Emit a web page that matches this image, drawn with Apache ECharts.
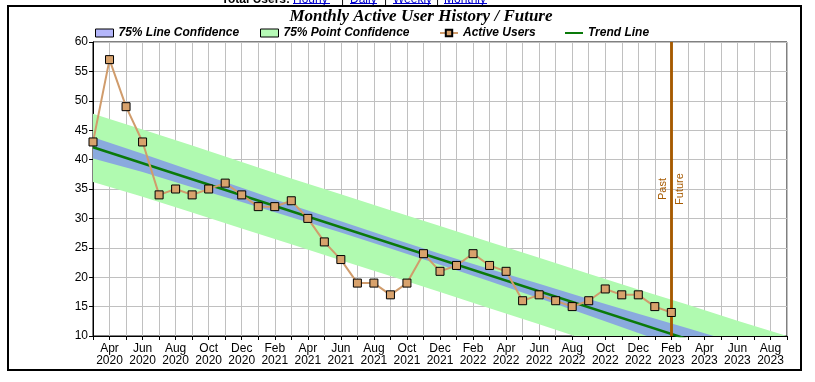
<!DOCTYPE html>
<html><head><meta charset="utf-8">
<script src="https://cdn.jsdelivr.net/npm/echarts@6/dist/echarts.min.js"></script>
<style>html,body{margin:0;padding:0;background:#fff}#c{width:815px;height:382px}</style>
</head><body><div id="c"></div><script>
// ---- data ----
const monthLabels = ['Mar 2020','Apr 2020','May 2020','Jun 2020','Jul 2020','Aug 2020','Sep 2020','Oct 2020','Nov 2020','Dec 2020',
  'Jan 2021','Feb 2021','Mar 2021','Apr 2021','May 2021','Jun 2021','Jul 2021','Aug 2021','Sep 2021','Oct 2021','Nov 2021','Dec 2021',
  'Jan 2022','Feb 2022','Mar 2022','Apr 2022','May 2022','Jun 2022','Jul 2022','Aug 2022','Sep 2022','Oct 2022','Nov 2022','Dec 2022',
  'Jan 2023','Feb 2023','Mar 2023','Apr 2023','May 2023','Jun 2023','Jul 2023','Aug 2023','Sep 2023'];
const activeUsers = [43,57,49,43,34,35,34,35,36,34,32,32,33,30,26,23,19,19,17,19,24,21,22,24,22,21,16,17,16,15,16,18,17,17,15,14];
const trendMonths = [0, 42];
const trendValues = [42.1, 4.0];
const bandMonths  = [0,3,6,9,12,15,18,21,24,27,30,33,36,39,42];
const lineUpper   = [43.8,41.0,38.1,35.2,32.3,29.5,26.7,24.0,21.4,18.9,16.3,13.8,11.3,8.8,6.4];
const lineLower   = [40.2,37.9,35.3,32.8,30.2,27.6,24.9,22.1,19.3,16.4,13.5,10.5,7.6,4.6,1.7];
const pointUpper  = [47.8,45.1,42.4,39.6,36.8,34.1,31.4,28.7,26.0,23.3,20.6,17.9,15.3,12.6,10.0];
const pointLower  = [36.2,33.7,31.0,28.3,25.6,22.9,20.2,17.5,14.7,12.0,9.2,6.4,3.6,0.8,-2.0];
const pastFutureMonth = 35;
const seriesNames = ['75% Line Confidence','75% Point Confidence','Active Users','Trend Line'];

// ---- chart ----
const SANS = "'Liberation Sans',Arial,sans-serif";
const pair = (xs, ys) => xs.map((x, i) => [x, ys[i]]);
const userPts = activeUsers.map((v, i) => [i, v]);

const chart = echarts.init(document.getElementById('c'), null, {renderer: 'canvas'});
function legendAt(left, item) {
  return {
    left: left, top: 27, itemWidth: 18, itemHeight: 8, padding: 0, selectedMode: false,
    textStyle: {fontFamily: SANS, fontWeight: 'bold', fontStyle: 'italic', fontSize: 12, color: '#000'},
    data: [item]
  };
}
function bandSeries(name, upper, lower, color, z) {
  return {
    name: name, type: 'custom', clip: true, silent: true, z: z,
    itemStyle: {color: color},
    data: [[bandMonths[0], upper[0]]],
    renderItem: function (params, api) {
      const top = bandMonths.map((m, i) => api.coord([m, upper[i]]));
      const bot = bandMonths.map((m, i) => api.coord([m, lower[i]])).reverse();
      return {type: 'polygon', shape: {points: top.concat(bot)}, style: {fill: color, stroke: null}};
    }
  };
}
const brown = '#A65A00';
const linkFont = {fontFamily: SANS, fontSize: 12, verticalAlign: 'bottom'};
const option = {
  animation: false,
  backgroundColor: '#fff',
  grid: {left: 93, top: 42, width: 694, height: 294, show: true, borderColor: '#000', borderWidth: 1, backgroundColor: '#fff'},
  legend: [
    legendAt(95, {name: seriesNames[0], icon: 'rect', itemStyle: {color: '#B4B6FA', borderColor: '#000', borderWidth: 1}}),
    legendAt(260, {name: seriesNames[1], icon: 'rect', itemStyle: {color: '#B6FAB6', borderColor: '#000', borderWidth: 1}}),
    legendAt(439, {name: seriesNames[2]}),
    legendAt(564, {name: seriesNames[3], itemStyle: {opacity: 0}})
  ],
  xAxis: {
    type: 'value', min: 0, max: 42, interval: 1,
    axisLine: {onZero: false, lineStyle: {color: '#000', width: 1}},
    axisTick: {length: 4, lineStyle: {color: '#000'}},
    splitLine: {show: true, lineStyle: {color: '#c0c0c0', width: 1}},
    axisLabel: {
      formatter: v => (v % 2 === 1 && monthLabels[v]) ? monthLabels[v].replace(' ', '\n') : '',
      fontFamily: SANS, fontSize: 12, color: '#000', lineHeight: 12, margin: 7
    }
  },
  yAxis: {
    type: 'value', min: 10, max: 60, interval: 5,
    axisLine: {show: true, onZero: false, lineStyle: {color: '#000', width: 1}},
    axisTick: {show: true, length: 4, lineStyle: {color: '#000'}},
    splitLine: {show: true, lineStyle: {color: '#c0c0c0', width: 1}},
    axisLabel: {fontFamily: SANS, fontSize: 12, color: '#000', margin: 5}
  },
  series: [
    bandSeries(seriesNames[1], pointUpper, pointLower, '#B0FAB0', 1),
    bandSeries(seriesNames[0], lineUpper, lineLower, '#8AAADE', 2),
    {name: seriesNames[3], type: 'line', data: pair(trendMonths, trendValues), symbol: 'none',
     lineStyle: {color: '#0A7A0A', width: 2.5}, itemStyle: {color: '#0A7A0A'}, z: 4},
    {name: seriesNames[2], type: 'line', data: userPts, symbol: 'rect', symbolSize: 8,
     itemStyle: {color: '#D8A26C', borderColor: '#000', borderWidth: 1},
     lineStyle: {color: '#D09C6C', width: 2}, z: 5,
     markLine: {
       silent: true, symbol: 'none', animation: false,
       lineStyle: {color: brown, width: 2.5, type: 'solid'},
       label: {color: brown, fontFamily: SANS, fontSize: 11, distance: 3},
       data: [
         {xAxis: pastFutureMonth, label: {formatter: 'Past', position: 'insideMiddleTop'}},
         {xAxis: pastFutureMonth, label: {formatter: 'Future', position: 'insideMiddleBottom'}}
       ]
     }}
  ],
  graphic: [
    {type: 'rect', shape: {x: 8, y: 6, width: 793, height: 364}, style: {fill: null, stroke: '#000', lineWidth: 2}, silent: true, z: 100},
    {type: 'text', x: 421, y: 17, style: {text: 'Monthly Active User History / Future', fontFamily: "'Liberation Serif','Times New Roman',serif",
      fontWeight: 'bold', fontStyle: 'italic', fontSize: 17, fill: '#000', align: 'center', verticalAlign: 'middle'}},
    {type: 'text', x: 290, y: 6, style: Object.assign({text: 'Total Users:', fontWeight: 'bold', fill: '#000', align: 'right'}, linkFont)},
    {type: 'text', x: 293, y: 6, style: Object.assign({text: 'Hourly', fill: '#0000CC'}, linkFont)},
    {type: 'text', x: 341, y: 6, style: Object.assign({text: '|', fill: '#000'}, linkFont)},
    {type: 'text', x: 350, y: 6, style: Object.assign({text: 'Daily', fill: '#0000CC'}, linkFont)},
    {type: 'text', x: 384, y: 6, style: Object.assign({text: '|', fill: '#000'}, linkFont)},
    {type: 'text', x: 393, y: 6, style: Object.assign({text: 'Weekly', fill: '#0000CC'}, linkFont)},
    {type: 'text', x: 436, y: 6, style: Object.assign({text: '|', fill: '#000'}, linkFont)},
    {type: 'text', x: 444, y: 6, style: Object.assign({text: 'Monthly', fill: '#0000CC'}, linkFont)},
    {type: 'line', shape: {x1: 293, y1: 3.5, x2: 330, y2: 3.5}, style: {stroke: '#0000CC', lineWidth: 1}},
    {type: 'line', shape: {x1: 350, y1: 3.5, x2: 377, y2: 3.5}, style: {stroke: '#0000CC', lineWidth: 1}},
    {type: 'line', shape: {x1: 393, y1: 3.5, x2: 431, y2: 3.5}, style: {stroke: '#0000CC', lineWidth: 1}},
    {type: 'line', shape: {x1: 444, y1: 3.5, x2: 487, y2: 3.5}, style: {stroke: '#0000CC', lineWidth: 1}}
  ]
};
chart.setOption(option);
</script></body></html>
